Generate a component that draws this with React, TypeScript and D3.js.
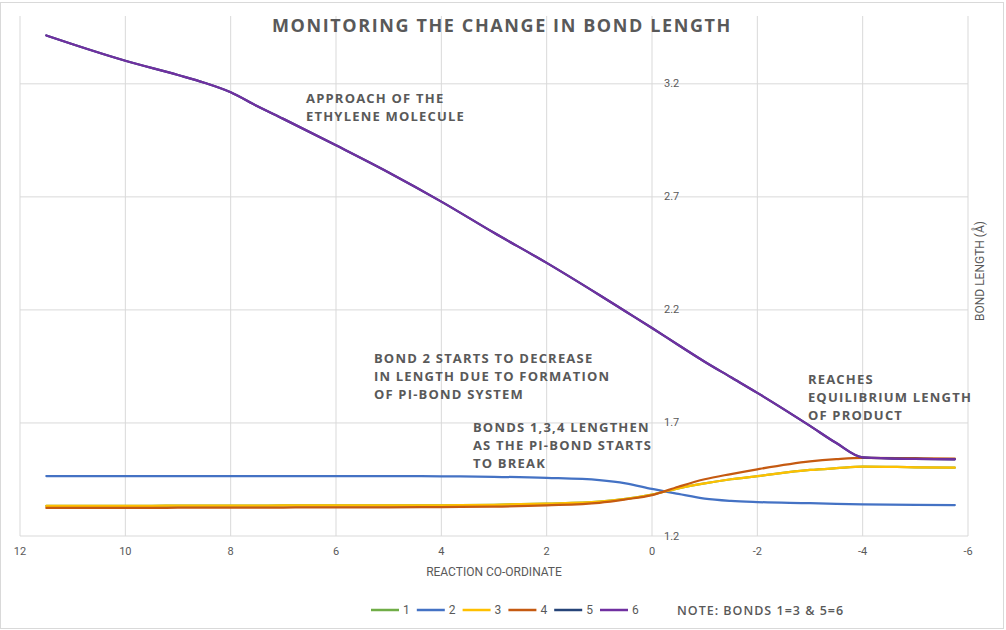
import * as d3 from "d3";

const COORD = [11.5, 11, 10, 9, 8.5, 8, 7.5, 7, 6, 5, 4, 3, 2, 1, 0.5, 0, -0.5, -1, -1.5, -2, -3, -3.5, -4, -5, -5.75];

const BOND1 = [1.333, 1.333, 1.333, 1.334, 1.334, 1.334, 1.334, 1.335, 1.335, 1.335, 1.336, 1.338, 1.343, 1.352, 1.364, 1.383, 1.411, 1.433, 1.451, 1.465, 1.492, 1.5, 1.507, 1.504, 1.502];
const BOND2 = [1.465, 1.465, 1.465, 1.465, 1.465, 1.465, 1.465, 1.465, 1.465, 1.465, 1.464, 1.462, 1.457, 1.447, 1.433, 1.408, 1.386, 1.365, 1.355, 1.35, 1.345, 1.342, 1.34, 1.338, 1.337];
const BOND3 = [1.333, 1.333, 1.333, 1.334, 1.334, 1.334, 1.334, 1.335, 1.335, 1.335, 1.336, 1.338, 1.343, 1.352, 1.364, 1.383, 1.411, 1.433, 1.451, 1.465, 1.492, 1.5, 1.507, 1.504, 1.502];
const BOND4 = [1.324, 1.324, 1.324, 1.325, 1.325, 1.326, 1.326, 1.326, 1.327, 1.327, 1.328, 1.33, 1.336, 1.347, 1.362, 1.381, 1.418, 1.451, 1.474, 1.495, 1.53, 1.54, 1.546, 1.544, 1.542];
const BOND5 = [3.414, 3.375, 3.302, 3.239, 3.205, 3.163, 3.102, 3.045, 2.928, 2.808, 2.679, 2.541, 2.408, 2.266, 2.193, 2.12, 2.045, 1.971, 1.902, 1.833, 1.687, 1.611, 1.548, 1.541, 1.539];
const BOND6 = [3.414, 3.375, 3.302, 3.239, 3.205, 3.163, 3.102, 3.045, 2.928, 2.808, 2.679, 2.541, 2.408, 2.266, 2.193, 2.12, 2.045, 1.971, 1.902, 1.833, 1.687, 1.611, 1.548, 1.541, 1.539];

const SERIES = [
  { name: "1", values: BOND1, color: "#70AD47" },
  { name: "2", values: BOND2, color: "#4472C4" },
  { name: "3", values: BOND3, color: "#FFC000" },
  { name: "4", values: BOND4, color: "#C55A11" },
  { name: "5", values: BOND5, color: "#264478" },
  { name: "6", values: BOND6, color: "#7030A0" },
];

const X_TICKS = [12, 10, 8, 6, 4, 2, 0, -2, -4, -6];
const Y_TICKS = [1.2, 1.7, 2.2, 2.7, 3.2];

const NOTES = [
  { at: [6.57, 3.137], lines: ["APPROACH OF THE", "ETHYLENE MOLECULE"] },
  { at: [5.28, 1.987], lines: ["BOND 2 STARTS TO DECREASE", "IN LENGTH DUE TO FORMATION", "OF PI-BOND SYSTEM"] },
  { at: [3.4, 1.68], lines: ["BONDS 1,3,4 LENGTHEN", "AS THE PI-BOND STARTS", "TO BREAK"] },
  { at: [-2.96, 1.894], lines: ["REACHES", "EQUILIBRIUM LENGTH", "OF PRODUCT"] },
];

const W = 1006;
const H = 630;
const GRAY = "#595959";
const GRID = "#d9d9d9";
const NARROW = "'Liberation Sans Narrow', 'Roboto', sans-serif";
const WIDE = "'Open Sans', 'DejaVu Sans', sans-serif";

export default function App() {
  const x = d3.scaleLinear().domain([12, -6]).range([20, 968]);
  const y = d3.scaleLinear().domain([1.2, 3.5]).range([536, 16]);

  const line = d3
    .line<number>()
    .x((_, i) => x(COORD[i]))
    .y((d) => y(d))
    .curve(d3.curveMonotoneX);

  const legendX = d3.scalePoint<string>().domain(SERIES.map((s) => s.name)).range([371, 600]);

  return (
    <div style={{ position: "absolute", left: 0, top: 0 }}>
      <svg width={W} height={H} style={{ display: "block", background: "#fff" }}>
        <rect x={0.5} y={2.5} width={1003} height={626} fill="#fff" stroke={GRID} />

        {X_TICKS.map((t) => (
          <line key={"gx" + t} x1={x(t)} x2={x(t)} y1={16} y2={536} stroke={GRID} />
        ))}
        {Y_TICKS.map((t) => (
          <line key={"gy" + t} x1={x(12)} x2={x(-6)} y1={y(t)} y2={y(t)} stroke={GRID} />
        ))}

        {X_TICKS.map((t) => (
          <text key={"tx" + t} x={x(t)} y={551} textAnchor="middle" dominantBaseline="central"
            fontFamily={NARROW} fontSize={11} fill={GRAY}>
            {t}
          </text>
        ))}
        {Y_TICKS.map((t) => (
          <text key={"ty" + t} x={x(0) + 12} y={y(t)} dominantBaseline="central"
            fontFamily={NARROW} fontSize={11} fill={GRAY}>
            {t.toFixed(1)}
          </text>
        ))}

        {SERIES.map((s) => (
          <path key={s.name} d={line(s.values) ?? ""} fill="none" stroke={s.color}
            strokeWidth={2.25} strokeLinecap="round" strokeLinejoin="round" />
        ))}

        <text x={502} y={25} textAnchor="middle" dominantBaseline="central" fontFamily={WIDE}
          fontWeight={700} fontSize={18} letterSpacing={1.6} fill={GRAY}>
          MONITORING THE CHANGE IN BOND LENGTH
        </text>

        {NOTES.map((n, k) => (
          <text key={"n" + k} fontFamily={WIDE} fontWeight={700} fontSize={13} letterSpacing={1.2} fill={GRAY}>
            {n.lines.map((l, i) => (
              <tspan key={i} x={x(n.at[0])} y={y(n.at[1]) + i * 18} dominantBaseline="central">
                {l}
              </tspan>
            ))}
          </text>
        ))}

        <text x={494} y={572} textAnchor="middle" dominantBaseline="central" fontFamily={NARROW}
          fontSize={12} fill={GRAY}>
          REACTION CO-ORDINATE
        </text>
        <text transform="translate(980,271) rotate(-90)" textAnchor="middle" dominantBaseline="central"
          fontFamily={NARROW} fontSize={12} fill={GRAY}>
          BOND LENGTH (Å)
        </text>

        {SERIES.map((s) => (
          <g key={"lg" + s.name} transform={`translate(${legendX(s.name)},610)`}>
            <line x1={0} x2={28} y1={0} y2={0} stroke={s.color} strokeWidth={2.5} />
            <text x={32} y={0} dominantBaseline="central" fontFamily={NARROW} fontSize={12} fill={GRAY}>
              {s.name}
            </text>
          </g>
        ))}
        <text x={677} y={610} dominantBaseline="central" fontFamily={WIDE} fontWeight={600} fontSize={12.5}
          letterSpacing={1} fill={GRAY}>
          NOTE: BONDS 1=3 &amp; 5=6
        </text>
      </svg>
    </div>
  );
}
